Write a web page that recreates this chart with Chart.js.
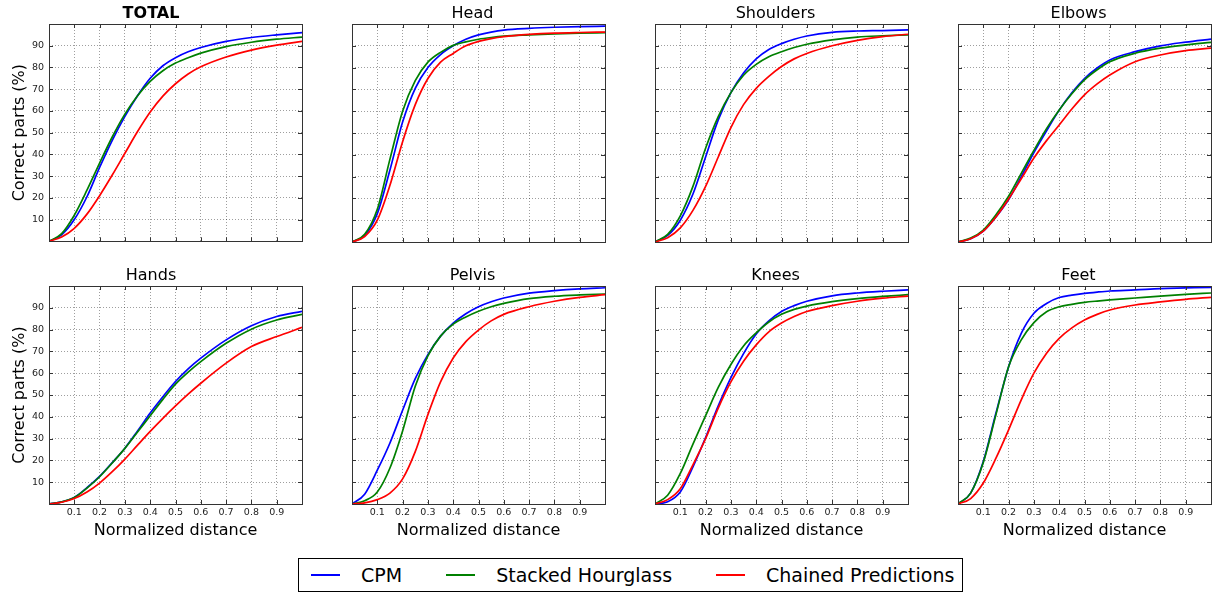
<!DOCTYPE html>
<html>
<head>
<meta charset="utf-8">
<script src="https://cdn.jsdelivr.net/npm/chart.js@4.4.1/dist/chart.umd.min.js"></script>
<style>
    body { margin: 0; background: #fff; width: 1217px; height: 592px; position: relative; overflow: hidden; font-family: 'DejaVu Sans', sans-serif; }
    .panel { position: absolute; }
    #legend { position: absolute; left: 298px; top: 558px; width: 665px; height: 34px; box-sizing: border-box; border: 1px solid #000; display: flex; align-items: center; padding-left: 12px; font-size: 19px; color: #000; }
    #legend .sw { display: inline-block; flex-shrink: 0; width: 29px; height: 2px; margin-right: 21px; }
    #legend .lbl { flex-shrink: 0; margin-right: 44px; white-space: nowrap; }
    #legend .lbl:last-child { margin-right: 0; }
</style>
</head>
<body>
<div id="legend"></div>

<script>
// Distancia normalizada (eixo x)
const distancias = [0, 0.05, 0.1, 0.15, 0.2, 0.25, 0.3, 0.35, 0.4, 0.45, 0.5, 0.55, 0.6, 0.7, 0.8, 0.9, 1.0];

const series = ['CPM', 'Stacked Hourglass', 'Chained Predictions'];
const cores = ['#0000ff', '#008000', '#ff0000'];
const titulos = ['TOTAL', 'Head', 'Shoulders', 'Elbows', 'Hands', 'Pelvis', 'Knees', 'Feet'];

// Valores (%)
const totalCPM = [0, 3, 10, 20.5, 34, 46.5, 57.5, 67, 75, 80.8, 84.5, 87.2, 89.2, 92, 93.8, 95, 96];
const totalSHG = [0, 3.5, 12, 23.5, 36, 48, 58.5, 67, 73.6, 78.5, 82, 84.5, 86.6, 89.6, 91.6, 93, 94];
const totalCP  = [0, 2, 6, 12.5, 21, 30.5, 40.5, 50.5, 59.5, 66.8, 72.5, 77, 80.3, 84.8, 88, 90.3, 92];

const headCPM = [0, 3, 13, 33, 55, 70.5, 80, 86, 90, 93, 95, 96.3, 97.2, 98, 98.5, 98.8, 99];
const headSHG = [0, 3.5, 15, 38, 60, 74, 82.5, 87, 90.2, 91.8, 93, 93.8, 94.4, 95, 95.5, 95.8, 96];
const headCP  = [0, 2.5, 10, 26, 46, 63, 75, 82.5, 86.5, 90, 92, 93.3, 94.2, 95.2, 95.8, 96.1, 96.3];

const shouldersCPM = [0, 3, 10, 22, 39, 56, 68.5, 77.5, 84, 88.3, 91, 93, 94.5, 96.2, 96.8, 97, 97.3];
const shouldersSHG = [0, 3.5, 12, 25.5, 43, 57.5, 68.5, 76.5, 81.5, 85, 87.3, 89.2, 90.7, 92.7, 94, 94.6, 95];
const shouldersCP  = [0, 2, 6.5, 14.5, 25.5, 39, 52.5, 63, 70.5, 76, 80.5, 84, 86.5, 90, 92.5, 94.2, 95.3];

const elbowsCPM = [0, 1.5, 5, 11.5, 19.5, 30, 41, 51, 60.5, 68.5, 75, 79.8, 83.5, 87.3, 90, 91.7, 93.1];
const elbowsSHG = [0, 1.8, 5.5, 12.5, 21, 31.5, 42, 52, 60.6, 68, 74.4, 79, 82.7, 86.6, 88.9, 90.4, 91.6];
const elbowsCP  = [0, 1.5, 5, 11.5, 19.7, 29, 38.5, 46.5, 53.7, 61, 67.5, 72.5, 76.6, 82.7, 85.8, 87.8, 88.9];

const handsCPM = [0, 1, 3, 7.5, 12.7, 19, 25.6, 33.5, 41.7, 49.2, 56.2, 62, 66.9, 75.3, 81.8, 86, 88.4];
const handsSHG = [0, 1, 3, 7.3, 12.5, 18.8, 25.5, 33, 40.5, 48, 55, 60.5, 65.3, 73.7, 80.2, 84.4, 87];
const handsCP  = [0, 0.8, 2.5, 5.5, 9.6, 14.8, 20.6, 27, 33.3, 39.3, 45, 50.4, 55.4, 64.6, 72.2, 76.8, 81];

const pelvisCPM = [0, 4.5, 15.5, 28, 43, 57.5, 68.5, 77, 83, 87.3, 90.5, 92.8, 94.5, 96.7, 97.9, 98.7, 99.2];
const pelvisSHG = [0, 1.5, 5.5, 16.5, 33.5, 54, 68, 77, 82.5, 85.8, 88.4, 90.5, 92, 94.2, 95.3, 95.9, 96.3];
const pelvisCP  = [0, 0.5, 2, 5, 11.5, 24, 41, 56, 67, 74.5, 79.8, 84, 87, 90.5, 93, 94.8, 96];

const kneesCPM = [0, 1, 5.5, 17, 30.5, 45, 58, 69, 78, 84, 88.3, 91, 93, 95.5, 96.8, 97.6, 98.2];
const kneesSHG = [0, 4, 14, 27.5, 40.5, 53.5, 64, 72.5, 78.5, 83.5, 87, 89.3, 90.8, 92.8, 94.2, 95.2, 96];
const kneesCP  = [0, 2, 7, 18, 30, 44, 56, 65.5, 73, 79, 83, 86, 88.3, 91, 93, 94.4, 95.4];

const feetCPM = [0, 5, 19.5, 41.7, 63, 78.3, 87.5, 92, 94.7, 95.8, 96.6, 97.2, 97.7, 98.2, 98.8, 99.1, 99.4];
const feetSHG = [0, 5, 19, 41, 63, 75.3, 83.2, 88.2, 90.5, 91.6, 92.5, 93.1, 93.6, 94.5, 95.4, 96.2, 96.8];
const feetCP  = [0, 2.5, 9.6, 21, 34, 47.8, 60, 69.2, 76, 80.8, 84.4, 87, 89, 91.3, 92.7, 93.9, 94.8];

const valoresPaineis = [
    [totalCPM, totalSHG, totalCP],
    [headCPM, headSHG, headCP],
    [shouldersCPM, shouldersSHG, shouldersCP],
    [elbowsCPM, elbowsSHG, elbowsCP],
    [handsCPM, handsSHG, handsCP],
    [pelvisCPM, pelvisSHG, pelvisCP],
    [kneesCPM, kneesSHG, kneesCP],
    [feetCPM, feetSHG, feetCP]
];

// Layout dos paineis (area do grafico em px)
const colLeft = [49, 352, 655, 958];
const rowTop = [24, 286];
const plotW = 253, plotH = 218, tituloH = 20, padDir = 4;

const FONTE = "'DejaVu Sans', sans-serif";

// moldura preta + ticks para dentro (estilo matplotlib classico)
const molduraPlugin = {
    id: 'moldura',
    afterDraw(chart) {
        const { ctx, chartArea: a, scales } = chart;
        ctx.save();
        ctx.strokeStyle = '#333';
        ctx.lineWidth = 1;
        ctx.beginPath();
        scales.x.ticks.forEach(t => {
            const px = Math.round(scales.x.getPixelForValue(t.value)) + 0.5;
            ctx.moveTo(px, a.bottom); ctx.lineTo(px, a.bottom - 4);
            ctx.moveTo(px, a.top); ctx.lineTo(px, a.top + 4);
        });
        scales.y.ticks.forEach(t => {
            const py = Math.round(scales.y.getPixelForValue(t.value)) + 0.5;
            ctx.moveTo(a.left, py); ctx.lineTo(a.left + 4, py);
            ctx.moveTo(a.right, py); ctx.lineTo(a.right - 4, py);
        });
        ctx.stroke();
        ctx.strokeRect(Math.round(a.left) + 0.5, Math.round(a.top) + 0.5, Math.round(a.width), Math.round(a.height));
        ctx.restore();
    }
};

function criarPainel(idx) {
    const row = Math.floor(idx / 4);
    const col = idx % 4;
    const yw = col === 0 ? 49 : 12;
    const xh = row === 1 ? 50 : 10;

    const div = document.createElement('div');
    div.className = 'panel';
    div.style.left = (colLeft[col] - yw) + 'px';
    div.style.top = (rowTop[row] - tituloH) + 'px';
    const canvas = document.createElement('canvas');
    canvas.width = yw + plotW + padDir;
    canvas.height = tituloH + plotH + xh;
    div.appendChild(canvas);
    document.body.appendChild(div);

    const grade = { color: 'rgba(0,0,0,0.38)', lineWidth: 1, drawTicks: false };

    const datasets = valoresPaineis[idx].map((vals, i) => ({
        label: series[i],
        data: distancias.map((d, k) => ({ x: d, y: vals[k] })),
        borderColor: cores[i],
        borderWidth: 1.7,
        pointRadius: 0,
        fill: false,
        cubicInterpolationMode: 'monotone',
        order: 3 - i
    }));

    new Chart(canvas.getContext('2d'), {
        type: 'line',
        data: { datasets },
        options: {
            responsive: false,
            animation: false,
            layout: { padding: { left: 0, right: padDir, top: 0, bottom: 0 } },
            plugins: {
                legend: { display: false },
                tooltip: { enabled: false },
                title: {
                    display: true,
                    text: titulos[idx],
                    color: '#000',
                    font: { family: FONTE, size: 16, weight: idx === 0 ? 'bold' : 'normal' },
                    padding: { top: 0, bottom: 0.8 }
                }
            },
            scales: {
                x: {
                    type: 'linear', min: 0, max: 1,
                    grid: grade,
                    border: { display: false, dash: [1, 2] },
                    ticks: {
                        display: row === 1, stepSize: 0.1, autoSkip: false, maxRotation: 0, padding: 3,
                        color: '#222', font: { family: FONTE, size: 9.5 },
                        callback: v => (v < 0.05 || v > 0.95) ? '' : v.toFixed(1)
                    },
                    title: {
                        display: row === 1, text: 'Normalized distance', color: '#000',
                        font: { family: FONTE, size: 16 }, padding: { top: 0, bottom: 14 }
                    },
                    afterFit: s => { s.height = xh; }
                },
                y: {
                    min: 0, max: 100,
                    grid: grade,
                    border: { display: false, dash: [1, 2] },
                    ticks: {
                        display: col === 0, stepSize: 10, padding: 5,
                        color: '#222', font: { family: FONTE, size: 9.5 },
                        callback: v => (v === 0 || v === 100) ? '' : String(v)
                    },
                    title: {
                        display: col === 0, text: 'Correct parts (%)', color: '#000',
                        font: { family: FONTE, size: 16 }, padding: { top: 10, bottom: 0 }
                    },
                    afterFit: s => { s.width = yw; }
                }
            }
        },
        plugins: [molduraPlugin]
    });
}

function montarLegenda() {
    const leg = document.getElementById('legend');
    series.forEach((nome, i) => {
        const sw = document.createElement('span');
        sw.className = 'sw';
        sw.style.background = cores[i];
        const lbl = document.createElement('span');
        lbl.className = 'lbl';
        lbl.textContent = nome;
        leg.appendChild(sw);
        leg.appendChild(lbl);
    });
}

titulos.forEach((t, i) => criarPainel(i));
montarLegenda();
</script>
</body>
</html>
